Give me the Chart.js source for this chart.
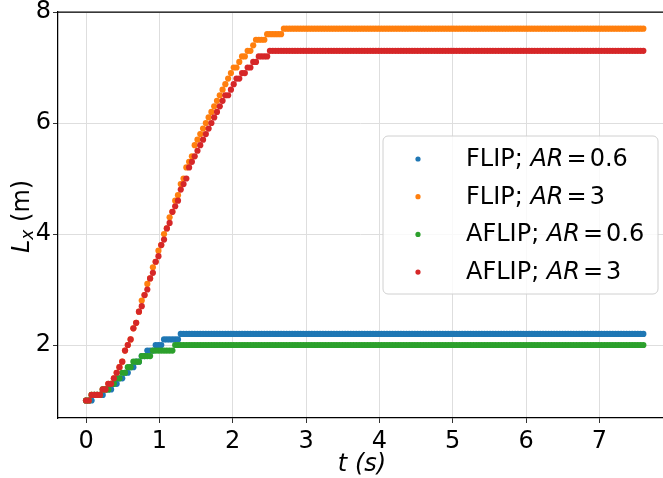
<!DOCTYPE html>
<html>
<head>
<meta charset="utf-8">
<title>L_x vs t</title>
<script src="https://cdn.jsdelivr.net/npm/chart.js@4.4.0/dist/chart.umd.min.js"></script>
<style>
    html, body { margin: 0; padding: 0; background: #fff; }
    #wrap { width: 663px; height: 478px; }
</style>
</head>
<body>
<div id="wrap"><canvas id="lxChart" width="663" height="478"></canvas></div>
<script>
// time between saved frames (s)
const frameStep = 0.038;

// runs of [L_x (m), number of frames at that value]
const flipAr06 = [[1.0, 3], [1.1, 4], [1.2, 3], [1.3, 2], [1.4, 2], [1.5, 2], [1.6, 2], [1.7, 2], [1.8, 2],
    [1.9, 3], [2.0, 3], [2.1, 6], [2.2, 167]];
const flipAr3 = [[1.0, 2], [1.1, 4], [1.2, 2], [1.3, 2], [1.4, 1], [1.5, 1], [1.6, 1], [1.7, 1], [1.9, 1],
    [2.0, 1], [2.1, 1], [2.3, 1], [2.4, 1], [2.6, 1], [2.8, 1], [2.9, 1], [3.1, 1], [3.2, 1], [3.4, 1],
    [3.5, 1], [3.7, 1], [3.8, 1], [4.0, 1], [4.1, 1], [4.3, 1], [4.4, 1], [4.6, 1], [4.7, 1], [4.9, 1],
    [5.0, 1], [5.2, 1], [5.3, 1], [5.4, 1], [5.6, 1], [5.7, 1], [5.8, 1], [5.9, 1], [6.0, 1], [6.1, 1],
    [6.2, 1], [6.3, 1], [6.4, 1], [6.5, 1], [6.6, 1], [6.7, 1], [6.8, 1], [6.9, 1], [7.0, 2], [7.1, 1],
    [7.2, 2], [7.3, 2], [7.4, 1], [7.5, 4], [7.6, 6], [7.7, 130]];
const aflipAr06 = [[1.0, 2], [1.1, 4], [1.2, 3], [1.3, 2], [1.4, 2], [1.5, 2], [1.6, 2], [1.7, 3], [1.8, 4],
    [1.9, 8], [2.0, 169]];
const aflipAr3 = [[1.0, 2], [1.1, 4], [1.2, 2], [1.3, 2], [1.4, 1], [1.5, 1], [1.6, 1], [1.7, 1], [1.9, 1],
    [2.0, 1], [2.1, 1], [2.3, 1], [2.4, 1], [2.6, 1], [2.7, 1], [2.9, 1], [3.0, 1], [3.2, 1], [3.3, 1],
    [3.5, 1], [3.6, 1], [3.8, 1], [3.9, 1], [4.1, 1], [4.2, 1], [4.4, 1], [4.5, 1], [4.6, 1], [4.8, 1],
    [4.9, 1], [5.0, 1], [5.2, 1], [5.3, 1], [5.4, 1], [5.5, 1], [5.6, 1], [5.7, 1], [5.8, 1], [5.9, 1],
    [6.0, 1], [6.1, 1], [6.2, 1], [6.3, 1], [6.4, 1], [6.5, 2], [6.6, 1], [6.7, 1], [6.8, 2], [6.9, 2],
    [7.0, 2], [7.1, 2], [7.2, 4], [7.3, 135]];

const methods = ['FLIP', 'FLIP', 'AFLIP', 'AFLIP'];
const aspectRatios = ['0.6', '3', '0.6', '3'];
const colors = ['#1f77b4', '#ff7f0e', '#2ca02c', '#d62728'];

const xTicks = [0, 1, 2, 3, 4, 5, 6, 7];
const yTicks = [2, 4, 6, 8];

const FONT = "'DejaVu Sans', sans-serif";

// turn runs into one point per saved frame
const toPoints = (runs) => {
    const pts = [];
    let frame = 0;
    runs.forEach(([value, count]) => {
        for (let i = 0; i < count; i++) {
            pts.push({ x: frame * frameStep, y: value });
            frame++;
        }
    });
    return pts;
};

// draws a line of text made of upright / italic pieces
const drawPieces = (ctx, pieces, x, y) => {
    pieces.forEach(p => {
        ctx.font = p.font;
        ctx.fillText(p.text, x, y + (p.dy || 0));
        x += ctx.measureText(p.text).width + (p.gap || 0);
    });
};

// scales should not add their own label padding to the layout
const noPadding = (scale) => {
    scale.paddingLeft = 0;
    scale.paddingRight = 0;
    scale.paddingTop = 0;
    scale.paddingBottom = 0;
};

const decorations = {
    id: 'decorations',
    afterDraw(chart) {
        const ctx = chart.ctx;
        const area = chart.chartArea;
        ctx.save();

        // top spine
        ctx.strokeStyle = '#000';
        ctx.lineWidth = 1.25;
        ctx.beginPath();
        ctx.moveTo(area.left, area.top);
        ctx.lineTo(area.right, area.top);
        ctx.stroke();

        ctx.fillStyle = '#000';
        ctx.textBaseline = 'alphabetic';

        // x title
        ctx.font = `italic 24px ${FONT}`;
        ctx.textAlign = 'center';
        ctx.fillText('t (s)', 362, 471);

        // y title, rotated
        ctx.textAlign = 'left';
        ctx.save();
        ctx.translate(29, 253);
        ctx.rotate(-Math.PI / 2);
        drawPieces(ctx, [
            { text: 'L', font: `italic 24px ${FONT}`, gap: 0 },
            { text: 'x', font: `italic 17px ${FONT}`, dy: 4 },
            { text: ' (m)', font: `24px ${FONT}` }
        ], 0, 0);
        ctx.restore();

        // legend box
        const bx = 383, by = 136, bw = 275, bh = 158, r = 5;
        ctx.beginPath();
        ctx.moveTo(bx + r, by);
        ctx.arcTo(bx + bw, by, bx + bw, by + bh, r);
        ctx.arcTo(bx + bw, by + bh, bx, by + bh, r);
        ctx.arcTo(bx, by + bh, bx, by, r);
        ctx.arcTo(bx, by, bx + bw, by, r);
        ctx.closePath();
        ctx.fillStyle = 'rgba(255,255,255,0.8)';
        ctx.fill();
        ctx.strokeStyle = '#d0d0d0';
        ctx.lineWidth = 1;
        ctx.stroke();

        methods.forEach((m, i) => {
            const base = 166 + i * 37.7;
            ctx.fillStyle = colors[i];
            ctx.beginPath();
            ctx.arc(418, base - 7, 2.6, 0, Math.PI * 2);
            ctx.fill();
            ctx.fillStyle = '#000';
            drawPieces(ctx, [
                { text: m + '; ', font: `24px ${FONT}` },
                { text: 'AR', font: `italic 24px ${FONT}`, gap: 3 },
                { text: '=', font: `24px ${FONT}`, gap: 3 },
                { text: aspectRatios[i], font: `24px ${FONT}` }
            ], 466, base);
        });

        ctx.restore();
    }
};

document.addEventListener('DOMContentLoaded', () => {
    const allRuns = [flipAr06, flipAr3, aflipAr06, aflipAr3];
    const ctx = document.getElementById('lxChart').getContext('2d');

    new Chart(ctx, {
        type: 'scatter',
        data: {
            datasets: allRuns.map((runs, i) => ({
                label: `${methods[i]}; AR=${aspectRatios[i]}`,
                data: toPoints(runs),
                backgroundColor: colors[i],
                borderWidth: 0,
                pointRadius: 3.1,
                pointHoverRadius: 3.1,
                order: allRuns.length - 1 - i
            }))
        },
        options: {
            responsive: false,
            animation: false,
            layout: { autoPadding: false, padding: { top: 12, left: 0, right: 0, bottom: 0 } },
            plugins: {
                legend: { display: false },
                tooltip: { enabled: false }
            },
            scales: {
                x: {
                    type: 'linear',
                    min: -0.382,
                    max: 7.868,
                    afterBuildTicks: (scale) => { scale.ticks = xTicks.map(v => ({ value: v })); },
                    afterFit: (scale) => { scale.height = 60; noPadding(scale); },
                    ticks: {
                        font: { family: FONT, size: 24 },
                        color: '#000',
                        padding: 4,
                        autoSkip: false,
                        maxRotation: 0
                    },
                    grid: { color: '#dedede', lineWidth: 1, tickLength: 5, tickColor: '#333' },
                    border: { color: '#000', width: 1.25 }
                },
                y: {
                    type: 'linear',
                    min: 0.685,
                    max: 8,
                    afterBuildTicks: (scale) => { scale.ticks = yTicks.map(v => ({ value: v })); },
                    afterFit: (scale) => { scale.width = 58; noPadding(scale); },
                    ticks: {
                        font: { family: FONT, size: 24 },
                        color: '#000',
                        padding: 2,
                        autoSkip: false
                    },
                    grid: { color: '#dedede', lineWidth: 1, tickLength: 5, tickColor: '#333' },
                    border: { color: '#000', width: 1.25 }
                }
            }
        },
        plugins: [decorations]
    });
});
</script>
</body>
</html>
